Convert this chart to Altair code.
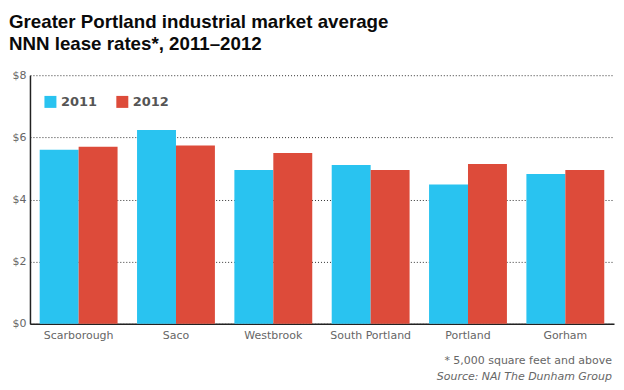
import altair as alt
import pandas as pd

cities = ["Scarborough", "Saco", "Westbrook", "South Portland", "Portland", "Gorham"]
years = ["2011", "2012"]
rates_2011 = [5.60, 6.24, 4.95, 5.11, 4.48, 4.82]
rates_2012 = [5.70, 5.74, 5.50, 4.95, 5.14, 4.95]
y_ticks = [0, 2, 4, 6, 8]
title_lines = ["Greater Portland industrial market average", "NNN lease rates*, 2011\u20132012"]
footnote = "* 5,000 square feet and above"
source = "Source: NAI The Dunham Group"

rows = []
for c, a, b in zip(cities, rates_2011, rates_2012):
    rows.append({"city": c, "year": "2011", "rate": a})
    rows.append({"city": c, "year": "2012", "rate": b})
df = pd.DataFrame(rows)

FONT = "DejaVu Sans"

bars = alt.Chart(df).mark_bar().encode(
    x=alt.X("city:N", sort=cities, title=None,
            scale=alt.Scale(paddingInner=0.2, paddingOuter=0.1),
            axis=alt.Axis(labelAngle=0, ticks=False, grid=False, domain=True,
                          domainColor="#222", domainWidth=1.5, labelPadding=6)),
    xOffset=alt.XOffset("year:N", sort=years),
    y=alt.Y("rate:Q", title=None,
            scale=alt.Scale(domain=[0, 8], nice=False),
            axis=alt.Axis(values=y_ticks, labelExpr="'$' + datum.value", ticks=False,
                          grid=True, gridDash=[1, 2], gridColor="#333", gridWidth=1,
                          domain=True, domainColor="#222", domainWidth=1.5, labelPadding=4)),
    color=alt.Color("year:N", sort=years,
                    scale=alt.Scale(domain=years, range=["#29C3F0", "#DD4B3A"]),
                    legend=alt.Legend(title=None, orient="none", legendX=14, legendY=20,
                                      direction="horizontal", symbolType="square",
                                      symbolSize=144, symbolStrokeWidth=0,
                                      labelFont=FONT, labelFontSize=13, labelFontWeight="bold",
                                      labelColor="#555", columnPadding=18, labelOffset=4)),
)

def text_layer(txt, x, y, **kw):
    d = pd.DataFrame({"t": [txt]})
    return alt.Chart(d).mark_text(baseline="alphabetic", **kw).encode(
        text="t:N", x=alt.value(x), y=alt.value(y))

title1 = text_layer(title_lines[0], -21, -47, align="left", font="Liberation Sans",
                    fontSize=18.75, fontWeight="bold", color="#0a0a0a")
title2 = text_layer(title_lines[1], -21, -25, align="left", font="Liberation Sans",
                    fontSize=18.75, fontWeight="bold", color="#0a0a0a")
foot1 = text_layer(footnote, 583, 289, align="right", font=FONT, fontSize=11, color="#666")
foot2 = text_layer(source, 583, 305, align="right", font=FONT, fontSize=11, color="#666",
                   fontStyle="italic")

chart = alt.layer(bars, title1, title2, foot1, foot2).properties(
    width=585, height=249,
    padding={"left": 22, "top": 67, "right": 2, "bottom": 58},
    autosize=alt.AutoSizeParams(type="none"),
).configure_view(stroke=None).configure_axis(
    labelFont=FONT, labelFontSize=11, labelColor="#666"
)

chart.save("out.html", embed_options={"renderer": "svg", "actions": False})
